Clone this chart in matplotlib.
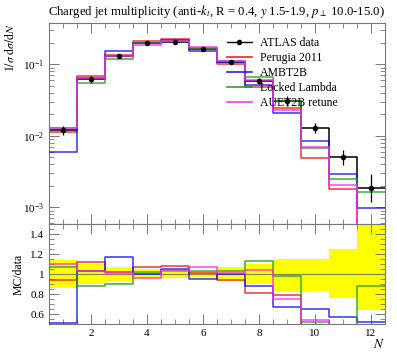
import numpy as np
import matplotlib
matplotlib.use("Agg")
import matplotlib.pyplot as plt
from matplotlib.ticker import MultipleLocator, FuncFormatter

plt.rcParams['font.family'] = ['Liberation Serif', 'DejaVu Serif']
plt.rcParams['mathtext.fontset'] = 'stix'

# bin edges in N (charged multiplicity)
edges = [0.5, 1.5, 2.5, 3.5, 4.5, 5.5, 6.5, 7.5, 8.5, 9.5, 10.5, 11.5, 12.5]

# ATLAS data, 1/sigma dsigma/dN
data = [0.01186, 0.0617, 0.1306, 0.197, 0.205, 0.164, 0.1087, 0.059, 0.031, 0.0130, 0.0051, 0.00188]
err_hi = [0.0017, 0.0062, 0.0091, 0.0099, 0.0082, 0.0049, 0.0071, 0.0059, 0.0045, 0.0020, 0.0013, 0.0010]
err_lo = [0.0017, 0.0062, 0.0091, 0.0099, 0.0082, 0.0049, 0.0071, 0.0059, 0.0053, 0.0022, 0.0012, 0.00068]

# MC predictions
perugia = [0.01115, 0.0691, 0.1332, 0.2102, 0.2224, 0.1656, 0.1022, 0.0478, 0.0245, 0.00494, 0.00179, 0.0004]
ambt2b = [0.0060, 0.0637, 0.1528, 0.197, 0.2161, 0.1558, 0.1087, 0.0519, 0.0208, 0.0084, 0.0029, 0.00097]
locked = [0.0127, 0.0543, 0.1175, 0.2009, 0.2142, 0.1689, 0.1115, 0.0667, 0.0303, 0.0068, 0.0025, 0.00165]
auet2b = [0.01305, 0.0636, 0.1319, 0.1891, 0.2112, 0.175, 0.1098, 0.0612, 0.02325, 0.0070, 0.00205, 0.0004]

mc_names = ['Perugia 2011', 'AMBT2B', 'Locked Lambda', 'AUET2B retune']
mc_values = [perugia, ambt2b, locked, auet2b]
mc_colors = ['#ee1111', '#1111ee', '#229922', '#ff22ff']

edges = np.array(edges)
data = np.array(data)
centers = 0.5 * (edges[:-1] + edges[1:])

W, H = 397, 358
fig = plt.figure(figsize=(W / 100, H / 100), dpi=100)
ax = fig.add_axes([49 / W, 1 - 224 / H, 336 / W, 201 / H])
axr = fig.add_axes([49 / W, 1 - 324 / H, 336 / W, 100 / H], sharex=ax)

fs = 8.5
frame = '#777777'


def style(a):
    for s in a.spines.values():
        s.set_color(frame)
        s.set_linewidth(0.8)
    a.tick_params(which='both', direction='in', top=True, right=True,
                  color=frame, labelsize=fs - 0.5)
    a.tick_params(which='major', length=7, width=0.7)
    a.tick_params(which='minor', length=3.5, width=0.6)


def step_vals(v):
    v = np.asarray(v, dtype=float)
    return np.append(v, v[-1])


# main panel
ax.step(edges, step_vals(data), where='post', color='black', lw=1.1, zorder=2)
for name, vals, c in zip(mc_names, mc_values, mc_colors):
    ax.step(edges, step_vals(vals), where='post', color=c, lw=1.1, alpha=0.85, zorder=3)
ax.errorbar(centers, data, yerr=[err_lo, err_hi], fmt='o', color='black',
            ms=3, lw=0.9, capsize=0, zorder=4)

ax.set_yscale('log')
ax.set_ylim(5.83e-4, 0.378)
ax.set_xlim(0.5, 12.5)
style(ax)
ax.tick_params(labelbottom=False)
ax.xaxis.set_major_locator(MultipleLocator(2))
ax.xaxis.set_minor_locator(MultipleLocator(0.5))
ax.set_ylabel(r'$1/\sigma\;\mathrm{d}\sigma/\mathrm{d}N$', loc='top', fontsize=fs)

ax.set_title(r'Charged jet multiplicity (anti-$k_t$, R = 0.4, $y$ 1.5-1.9, $p_\perp$ 10.0-15.0)',
             fontsize=9.2, pad=6)

handles = [plt.Line2D([], [], color='black', marker='o', ms=3, lw=1.0)]
handles += [plt.Line2D([], [], color=c, lw=1.1) for c in mc_colors]
ax.legend(handles, ['ATLAS data'] + mc_names, loc='upper left',
          bbox_to_anchor=(227 / W, 1 - 37 / H), bbox_transform=fig.transFigure,
          frameon=False, fontsize=fs, handlelength=2.1, handletextpad=0.7,
          labelspacing=0.25, borderpad=0, borderaxespad=0)

# ratio panel
lo = (data - np.array(err_lo)) / data
hi = (data + np.array(err_hi)) / data
axr.fill_between(edges, step_vals(lo), step_vals(hi), step='post',
                 color='#ffff00', lw=0, zorder=1)
axr.axhline(1.0, color='#888866', lw=0.9, zorder=2)
for name, vals, c in zip(mc_names, mc_values, mc_colors):
    axr.step(edges, step_vals(np.array(vals) / data), where='post', color=c,
             lw=1.1, alpha=0.85, zorder=3)

axr.set_ylim(0.5, 1.5)
style(axr)
axr.yaxis.set_major_locator(MultipleLocator(0.2))
axr.yaxis.set_minor_locator(MultipleLocator(0.05))
axr.yaxis.set_major_formatter(FuncFormatter(lambda v, p: ('%g' % round(v, 2))))
axr.set_yticks([0.6, 0.8, 1.0, 1.2, 1.4])
axr.set_ylabel('MC/data', fontsize=fs)
axr.set_xlabel('$N$', loc='right', fontsize=fs + 1, labelpad=0)

fig.align_ylabels([ax, axr])
fig.savefig('out.png', dpi=100)
